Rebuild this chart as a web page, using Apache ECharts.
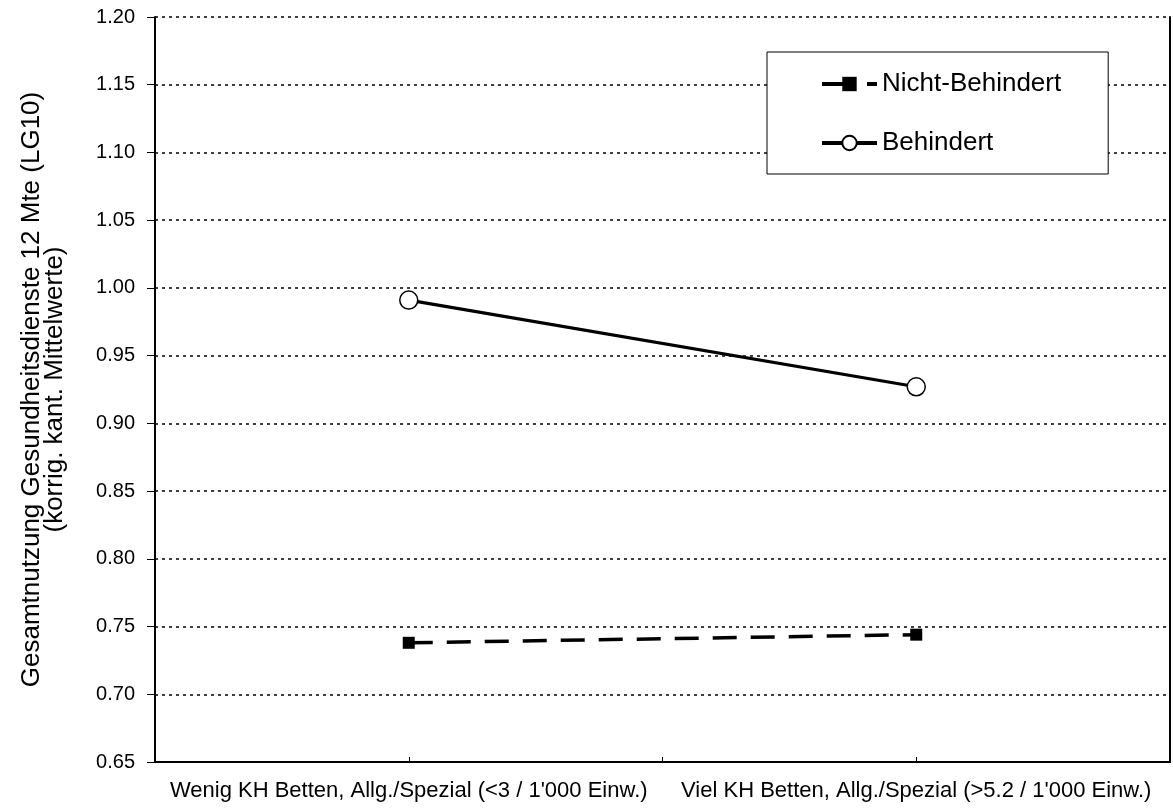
<!DOCTYPE html>
<html>
<head>
<meta charset="utf-8">
<script src="https://cdn.jsdelivr.net/npm/echarts@6/dist/echarts.min.js"></script>
<style>
html,body{margin:0;padding:0;background:#fff;}
#chart{width:1173px;height:811px;}
</style>
</head>
<body>
<div id="chart"></div>
<script>
const categories = ['', 'Wenig KH Betten, Allg./Spezial (<3 / 1\'000 Einw.)', '', 'Viel KH Betten, Allg./Spezial (>5.2 / 1\'000 Einw.)', ''];
const nichtBehindert = [null, 0.738, null, 0.744, null];
const behindert = [null, 0.991, null, 0.927, null];
const yTitle = 'Gesamtnutzung Gesundheitsdienste 12 Mte (LG10)\n(korrig. kant. Mittelwerte)';

const chart = echarts.init(document.getElementById('chart'), null, {renderer: 'canvas'});
const FONT = 'Liberation Sans, Arial, sans-serif';
chart.setOption({
  animation: false,
  backgroundColor: '#fff',
  textStyle: {fontFamily: FONT, color: '#000'},
  grid: {left: 155, top: 17, right: 2, bottom: 49, containLabel: false},
  legend: {
    orient: 'vertical',
    left: 767, top: 52,
    backgroundColor: '#fff',
    borderColor: '#000', borderWidth: 1,
    padding: [18, 47, 17, 53],
    itemWidth: 55, itemHeight: 18, itemGap: 31,
    textStyle: {fontFamily: FONT, fontSize: 26, color: '#000', lineHeight: 28},
    data: [
      {name: 'Nicht-Behindert', lineStyle: {type: [32, 13], width: 4}},
      {name: 'Behindert', lineStyle: {width: 4}}
    ]
  },
  xAxis: {
    type: 'category',
    data: categories,
    boundaryGap: false,
    axisLine: {lineStyle: {color: '#000', width: 2}},
    axisTick: {show: true, inside: true, length: 5, interval: 0, lineStyle: {color: '#000', width: 1}},
    axisLabel: {interval: 0, margin: 18, fontSize: 22, color: '#000', fontFamily: FONT},
    splitLine: {show: false}
  },
  yAxis: [{
    type: 'value',
    min: 0.65, max: 1.20, interval: 0.05,
    name: yTitle,
    nameLocation: 'middle',
    nameRotate: 90,
    nameGap: 89,
    nameTextStyle: {fontFamily: FONT, fontSize: 26, color: '#000', lineHeight: 23},
    axisLine: {show: true, lineStyle: {color: '#000', width: 2}},
    axisTick: {show: true, length: 8, lineStyle: {color: '#000', width: 1}},
    axisLabel: {margin: 20, fontSize: 20, color: '#000', fontFamily: FONT, formatter: v => v.toFixed(2)},
    splitLine: {show: true, lineStyle: {color: '#000', type: [3, 4], width: 1.5}}
  }, {
    type: 'value',
    position: 'right',
    min: 0.65, max: 1.20, interval: 0.05,
    axisLine: {show: true, lineStyle: {color: '#000', width: 2}},
    axisTick: {show: false},
    axisLabel: {show: false},
    splitLine: {show: false}
  }],
  series: [{
    name: 'Nicht-Behindert',
    type: 'line',
    data: nichtBehindert,
    connectNulls: true,
    symbol: 'rect',
    symbolSize: 12,
    itemStyle: {color: '#000'},
    lineStyle: {color: '#000', width: 3.5, type: [24, 14]},
    z: 3
  }, {
    name: 'Behindert',
    type: 'line',
    data: behindert,
    connectNulls: true,
    symbol: 'circle',
    symbolSize: 18,
    itemStyle: {color: '#fff', borderColor: '#000', borderWidth: 1.5},
    lineStyle: {color: '#000', width: 3.2},
    z: 3
  }]
});
</script>
</body>
</html>
